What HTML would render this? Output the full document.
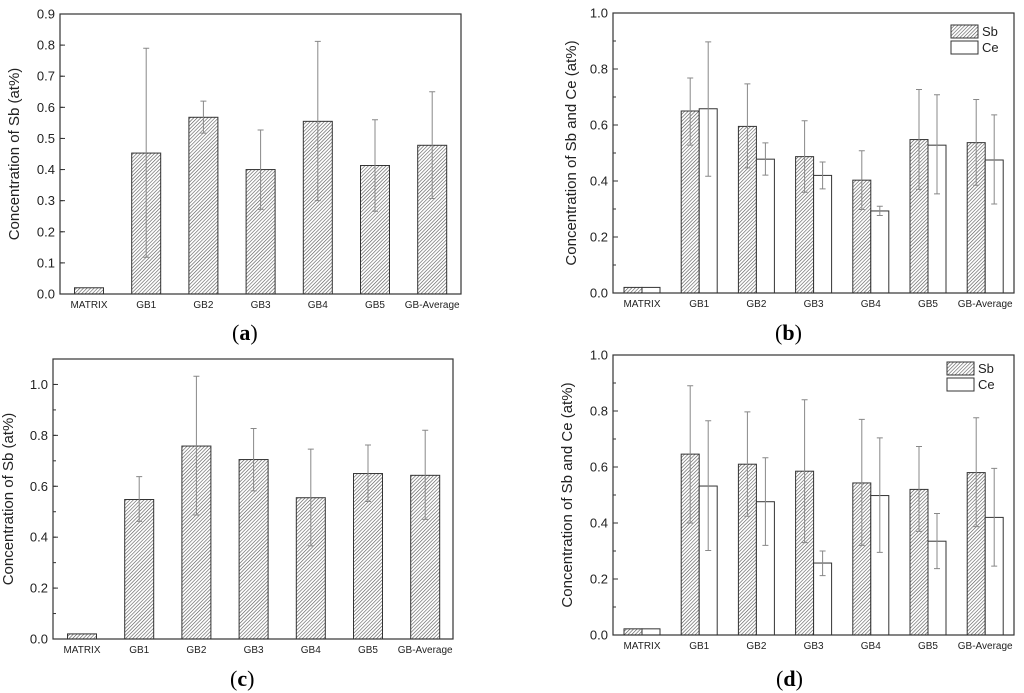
<!DOCTYPE html>
<html><head><meta charset="utf-8">
<style>
html,body{margin:0;padding:0;background:#fff;}
svg{display:block;font-family:"Liberation Sans",Arial,sans-serif;}
.cap{font-family:"Liberation Serif","Times New Roman",serif;font-size:22px;}
</style></head>
<body>
<svg id="fig" width="1024" height="693" viewBox="0 0 1024 693" xmlns="http://www.w3.org/2000/svg">
<defs>
<pattern id="hatch" patternUnits="userSpaceOnUse" width="2.5" height="2.5" patternTransform="rotate(45)">
<rect width="2.5" height="2.5" fill="#fff"/>
<line x1="0" y1="0" x2="0" y2="2.5" stroke="#555" stroke-width="1.2"/>
</pattern>
</defs>
<text class="cap" x="232" y="340">(<tspan font-weight="bold">a</tspan>)</text>
<text class="cap" x="775" y="340">(<tspan font-weight="bold">b</tspan>)</text>
<text class="cap" x="230" y="686">(<tspan font-weight="bold">c</tspan>)</text>
<text class="cap" x="776" y="686">(<tspan font-weight="bold">d</tspan>)</text>
</svg>
<script>
const categories = ["MATRIX","GB1","GB2","GB3","GB4","GB5","GB-Average"];
// Panel a
const aSb = [0.02,0.453,0.568,0.40,0.555,0.413,0.478];
const aSbUp = [null,0.79,0.62,0.527,0.812,0.56,0.65];
const aSbLo = [null,0.118,0.517,0.272,0.30,0.266,0.307];
const aTicks = ["0.0","0.1","0.2","0.3","0.4","0.5","0.6","0.7","0.8","0.9"];
// Panel b
const bSb = [0.02,0.65,0.595,0.487,0.403,0.548,0.537];
const bSbUp = [null,0.768,0.747,0.615,0.508,0.727,0.691];
const bSbLo = [null,0.528,0.447,0.36,0.298,0.37,0.385];
const bCe = [0.02,0.658,0.478,0.42,0.293,0.528,0.475];
const bCeUp = [null,0.897,0.536,0.468,0.31,0.708,0.636];
const bCeLo = [null,0.417,0.421,0.372,0.277,0.354,0.318];
const bTicks = ["0.0","0.2","0.4","0.6","0.8","1.0"];
// Panel c
const cSb = [0.02,0.548,0.758,0.705,0.555,0.65,0.643];
const cSbUp = [null,0.638,1.032,0.827,0.746,0.762,0.82];
const cSbLo = [null,0.462,0.487,0.582,0.366,0.54,0.47];
const cTicks = ["0.0","0.2","0.4","0.6","0.8","1.0"];
// Panel d
const dSb = [0.022,0.646,0.61,0.585,0.543,0.52,0.58];
const dSbUp = [null,0.89,0.797,0.84,0.77,0.673,0.776];
const dSbLo = [null,0.40,0.424,0.33,0.32,0.37,0.387];
const dCe = [0.022,0.532,0.476,0.257,0.498,0.335,0.42];
const dCeUp = [null,0.765,0.633,0.30,0.704,0.434,0.595];
const dCeLo = [null,0.302,0.32,0.212,0.295,0.237,0.246];
const dTicks = ["0.0","0.2","0.4","0.6","0.8","1.0"];

const NS="http://www.w3.org/2000/svg";
const fig=document.getElementById('fig');
function mk(tag,attrs,parent){const e=document.createElementNS(NS,tag);for(const k in attrs)e.setAttribute(k,attrs[k]);(parent||fig).appendChild(e);return e;}

function panel(id,L,R,T,B,ymax,ticks,minorStep,c0,title,titleX,series,legend){
  const g=mk('g',{});
  
  
  const y=v=>B-(v/ymax)*(B-T);
  const sp=57.2;
  const x=i=>c0+sp*i;
  for(let v=0;v<=ymax+1e-9;v+=minorStep){
    const t=mk('line',{x1:L,x2:L+3,y1:y(v),y2:y(v),stroke:'#333','stroke-width':1},g);
    
    
  }
  ticks.forEach(s=>{
    const v=parseFloat(s);
    const t=mk('line',{x1:L,x2:L+5,y1:y(v),y2:y(v),stroke:'#333','stroke-width':1},g);
    
    
    const lb=mk('text',{x:L-5,y:y(v)+4.5,'text-anchor':'end','font-size':13,fill:'#222'},g);
    lb.textContent=s;
    
    
  });
  categories.forEach((c,i)=>{
    const lb=mk('text',{x:x(i),y:B+14,'text-anchor':'middle','font-size':10,fill:'#222'},g);
    lb.textContent=c;
    
    
  });
  const bw=series.length===1?29:18;
  series.forEach((s,k)=>{
    s.vals.forEach((v,i)=>{
      const off=series.length===1?-bw/2:(k===0?-bw:0);
      const r=mk('rect',{x:x(i)+off,y:y(v),width:bw,height:B-y(v),fill:s.fill,stroke:'#333','stroke-width':1},g);
      
      
    });
    s.vals.forEach((v,i)=>{
      if(s.up[i]==null)return;
      const cx=x(i)+(series.length===1?0:(k===0?-bw/2:bw/2));
      const e=mk('path',{d:`M${cx},${y(s.lo[i])}V${y(s.up[i])}M${cx-3},${y(s.up[i])}H${cx+3}M${cx-3},${y(s.lo[i])}H${cx+3}`,stroke:'#888','stroke-width':1,fill:'none'},g);
      
      
    });
  });
  const fr=mk('rect',{x:L,y:T,width:R-L,height:B-T,fill:'none',stroke:'#333','stroke-width':1.2},g);
  
  
  const cy=(T+B)/2;
  const yt=mk('text',{x:titleX,y:cy,'text-anchor':'middle','font-size':15,fill:'#222',transform:`rotate(-90 ${titleX} ${cy})`},g);
  yt.textContent=title;
  
  
  if(legend){
    series.forEach((s,k)=>{
      const ly=legend.y+k*16;
      const r=mk('rect',{x:legend.x,y:ly,width:27,height:13,fill:s.fill,stroke:'#333','stroke-width':1},g);
      
      
      const t=mk('text',{x:legend.x+31,y:ly+11,'font-size':13,fill:'#222'},g);
      t.textContent=s.name;
      
      
    });
  }
}
const H='url(#hatch)';
panel('a',60,461,14,294,0.9,aTicks,0.1,89,'Concentration of Sb (at%)',19,
  [{name:'Sb',vals:aSb,up:aSbUp,lo:aSbLo,fill:H}],null);
panel('b',613,1014,13,293,1.0,bTicks,0.1,642,'Concentration of Sb and Ce (at%)',576,
  [{name:'Sb',vals:bSb,up:bSbUp,lo:bSbLo,fill:H},{name:'Ce',vals:bCe,up:bCeUp,lo:bCeLo,fill:'#fff'}],{x:951,y:25});
panel('c',53,453,359,639,1.1,cTicks,0.1,82,'Concentration of Sb (at%)',13,
  [{name:'Sb',vals:cSb,up:cSbUp,lo:cSbLo,fill:H}],null);
panel('d',613,1014,355,635,1.0,dTicks,0.1,642,'Concentration of Sb and Ce (at%)',572,
  [{name:'Sb',vals:dSb,up:dSbUp,lo:dSbLo,fill:H},{name:'Ce',vals:dCe,up:dCeUp,lo:dCeLo,fill:'#fff'}],{x:947,y:362});
</script>
</body></html>
